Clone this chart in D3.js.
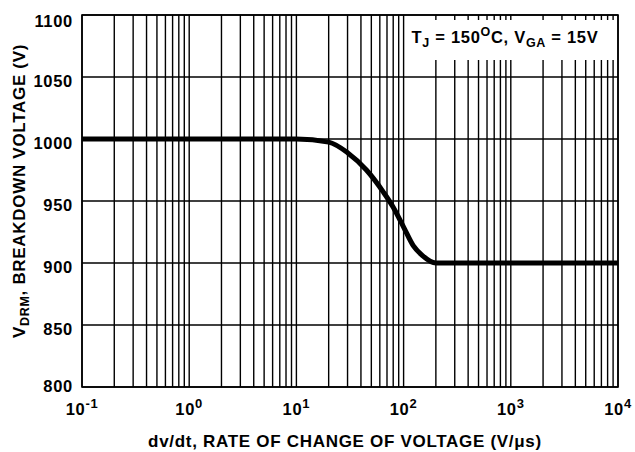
<!DOCTYPE html>
<html>
<head>
<meta charset="utf-8">
<script src="https://cdn.jsdelivr.net/npm/d3@7"></script>
<style>
  body { margin: 0; background: #fff; }
  text { font-family: "Liberation Sans", Arial, sans-serif; font-weight: bold; fill: #000; letter-spacing: 0.7px; }
</style>
</head>
<body>
<script>
// curve: dv/dt (V/us) vs breakdown voltage (V)
var dvdt = [0.1, 10, 20, 30, 45, 65, 80, 100, 123, 150, 200, 10000];
var vdrm = [1000, 1000, 997.5, 989, 975, 957, 945, 929, 914, 906, 900, 900];
var yTicks = [800, 850, 900, 950, 1000, 1050, 1100];
var xExps = [-1, 0, 1, 2, 3, 4];

var margin = { top: 15, right: 17, bottom: 65, left: 82 },
    width = 635 - margin.left - margin.right,
    height = 452 - margin.top - margin.bottom;

var x = d3.scaleLog().domain([0.1, 10000]).range([0, width]);
var y = d3.scaleLinear().domain([800, 1100]).range([height, 0]);

var svg = d3.select("body").append("svg")
    .attr("width", 635)
    .attr("height", 452)
    .append("g")
    .attr("transform", "translate(" + margin.left + "," + margin.top + ")");

// log grid: 1..9 in every decade
var gridX = [];
for (var e = -1; e < 4; e++) {
    for (var m = 1; m < 10; m++) gridX.push(m * Math.pow(10, e));
}
gridX.push(10000);

svg.selectAll(".gx")
    .data(gridX)
    .enter().append("line")
    .attr("x1", d => x(d)).attr("x2", d => x(d))
    .attr("y1", 0).attr("y2", height)
    .attr("stroke", "#000").attr("stroke-width", 1.4);

svg.selectAll(".gy")
    .data(yTicks)
    .enter().append("line")
    .attr("x1", 0).attr("x2", width)
    .attr("y1", d => y(d)).attr("y2", d => y(d))
    .attr("stroke", "#000").attr("stroke-width", 1.4);

svg.append("rect")
    .attr("width", width).attr("height", height)
    .attr("fill", "none").attr("stroke", "#000").attr("stroke-width", 1.6);

// legend box
svg.append("rect")
    .attr("x", 325).attr("y", 5)
    .attr("width", width - 326).attr("height", 40)
    .attr("fill", "#fff");

var lg = svg.append("text")
    .attr("x", 423).attr("y", 28)
    .attr("text-anchor", "middle")
    .style("font-size", "16.5px");
lg.append("tspan").text("T");
lg.append("tspan").attr("dy", 4).style("font-size", "12.5px").text("J");
lg.append("tspan").attr("dy", -4).text(" = 150");
lg.append("tspan").attr("dy", -7).style("font-size", "12.5px").text("O");
lg.append("tspan").attr("dy", 7).text("C, V");
lg.append("tspan").attr("dy", 4).style("font-size", "12.5px").text("GA");
lg.append("tspan").attr("dy", -4).text(" = 15V");

// the curve
var pts = dvdt.map((d, i) => [d, vdrm[i]]);
svg.append("path")
    .datum(pts)
    .attr("fill", "none")
    .attr("stroke", "#000")
    .attr("stroke-width", 5)
    .attr("stroke-linejoin", "round")
    .attr("d", d3.line().x(d => x(d[0])).y(d => y(d[1])).curve(d3.curveMonotoneX));

// y tick labels
svg.selectAll(".yl")
    .data(yTicks)
    .enter().append("text")
    .attr("x", -9)
    .attr("y", (d, i) => y(d) + (i === 0 ? 5 : i === yTicks.length - 1 ? 12 : 10))
    .attr("text-anchor", "end")
    .style("font-size", "16.5px")
    .text(d => d);

// x tick labels 10^n
var xl = svg.selectAll(".xl")
    .data(xExps)
    .enter().append("text")
    .attr("x", d => x(Math.pow(10, d)))
    .attr("y", height + 28)
    .attr("text-anchor", "middle")
    .style("font-size", "16.5px");
xl.append("tspan").text("10");
xl.append("tspan").attr("dy", -7).style("font-size", "13px").text(d => d);

// axis titles
svg.append("text")
    .attr("x", 263)
    .attr("y", height + 60)
    .attr("text-anchor", "middle")
    .style("font-size", "17px")
    .text("dv/dt, RATE OF CHANGE OF VOLTAGE (V/\u03bcs)");

var yt = svg.append("text")
    .attr("transform", "translate(" + (-57) + "," + 176 + ") rotate(-90)")
    .attr("text-anchor", "middle")
    .style("font-size", "17px");
yt.append("tspan").text("V");
yt.append("tspan").attr("dy", 4).style("font-size", "12.5px").text("DRM");
yt.append("tspan").attr("dy", -4).text(", BREAKDOWN VOLTAGE (V)");
</script>
</body>
</html>
